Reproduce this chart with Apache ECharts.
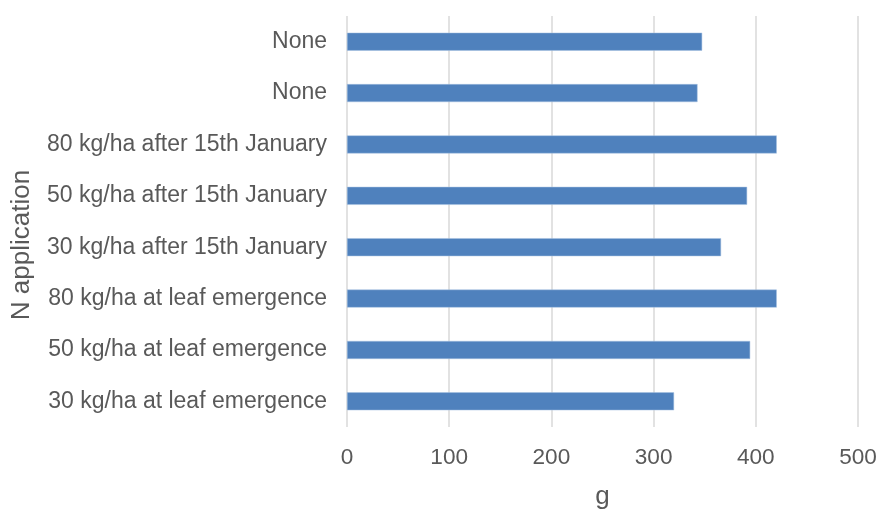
<!DOCTYPE html>
<html><head><meta charset="utf-8">
<script src="https://cdn.jsdelivr.net/npm/echarts@6/dist/echarts.min.js"></script>
<style>html,body{margin:0;padding:0;background:#fff}#c{width:881px;height:515px}</style>
</head><body><div id="c"></div>
<script>
const categories = ["30 kg/ha at leaf emergence","50 kg/ha at leaf emergence","80 kg/ha at leaf emergence","30 kg/ha after 15th January","50 kg/ha after 15th January","80 kg/ha after 15th January","None","None"];
const values = [320, 394.5, 420.5, 366, 391.5, 420.5, 343, 347.5];
const xTicks = [0, 100, 200, 300, 400, 500];
const chart = echarts.init(document.getElementById('c'));
const font = 'Liberation Sans';
chart.setOption({
  animation: false,
  grid: {left: 347, right: 23, top: 16, bottom: 79, containLabel: false},
  xAxis: {
    type: 'value', min: xTicks[0], max: xTicks[xTicks.length-1], interval: 100,
    name: 'g', nameLocation: 'middle', nameGap: 57,
    nameTextStyle: {fontFamily: font, fontSize: 26, color: '#595959'},
    axisLine: {show: false}, axisTick: {show: false},
    axisLabel: {fontFamily: font, fontSize: 22.6, color: '#595959', margin: 19},
    splitLine: {lineStyle: {color: '#d9d9d9', width: 1.5}}
  },
  yAxis: {
    type: 'category', data: categories,
    axisLine: {show: false}, axisTick: {show: false},
    axisLabel: {fontFamily: font, fontSize: 23, color: '#595959', margin: 20, interval: 0},
    splitLine: {show: false}
  },
  graphic: [{
    type: 'text', x: 22, y: 245, rotation: Math.PI/2,
    style: {text: 'N application', fontFamily: font, fontSize: 26, fill: '#595959', align: 'center', verticalAlign: 'middle'}
  }],
  series: [{
    type: 'bar', data: values, barWidth: 18,
    itemStyle: {color: '#4f81bd', borderColor: '#a7c0e0', borderWidth: 0.5}
  }]
});
</script></body></html>
